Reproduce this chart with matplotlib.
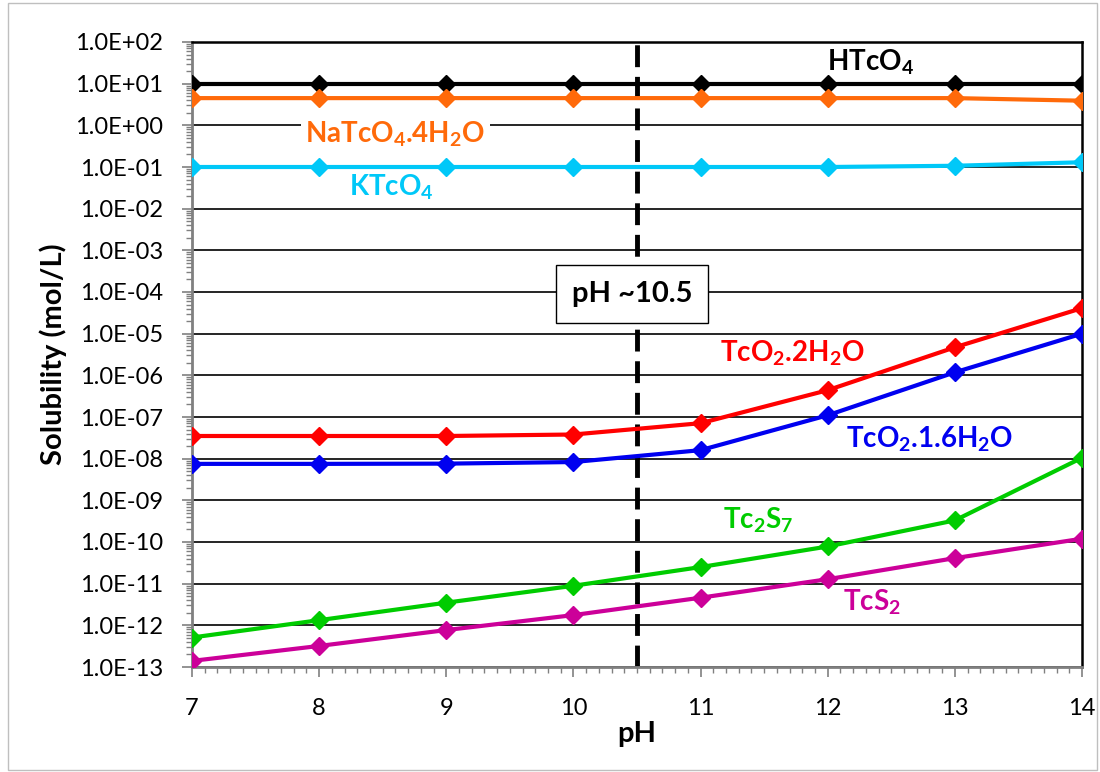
import matplotlib
matplotlib.use("Agg")
import matplotlib.pyplot as plt
from matplotlib.ticker import FixedLocator, LogLocator, NullFormatter, MultipleLocator
from matplotlib.patches import Rectangle
import numpy as np

plt.rcParams['font.family'] = ['Lato', 'DejaVu Sans']
plt.rcParams['mathtext.default'] = 'regular'

ph = [7, 8, 9, 10, 11, 12, 13, 14]
htco4 = [9.8, 9.8, 9.8, 9.8, 9.8, 9.8, 9.8, 9.8]
natco4 = [4.5, 4.5, 4.5, 4.5, 4.5, 4.5, 4.5, 3.9]
ktco4 = [0.1, 0.1, 0.1, 0.1, 0.1, 0.1, 0.107, 0.13]
tco2_2h2o = [3.5e-8, 3.5e-8, 3.5e-8, 3.8e-8, 7.1e-8, 4.4e-7, 4.7e-6, 4.1e-5]
tco2_16h2o = [7.5e-9, 7.5e-9, 7.6e-9, 8.3e-9, 1.6e-8, 1.1e-7, 1.18e-6, 1.0e-5]
tc2s7 = [5.1e-13, 1.33e-12, 3.5e-12, 8.9e-12, 2.5e-11, 7.8e-11, 3.3e-10, 1.05e-8]
tcs2 = [1.4e-13, 3.2e-13, 7.7e-13, 1.76e-12, 4.6e-12, 1.28e-11, 4.1e-11, 1.2e-10]

series = [
    (htco4, '#000000', 'HTcO$_4$', 12.34, 33.0, False),
    (natco4, '#FF6A0A', 'NaTcO$_4$.4H$_2$O', 8.6, 0.62, True),
    (ktco4, '#00C8F8', 'KTcO$_4$', 8.57, 0.033, False),
    (tco2_2h2o, '#FF0000', 'TcO$_2$.2H$_2$O', 11.72, 3.3e-6, False),
    (tco2_16h2o, '#0000F0', 'TcO$_2$.1.6H$_2$O', 12.80, 3.0e-8, False),
    (tc2s7, '#00CC00', 'Tc$_2$S$_7$', 11.45, 3.4e-10, False),
    (tcs2, '#CC0099', 'TcS$_2$', 12.35, 3.6e-12, False),
]

fig = plt.figure(figsize=(11, 7.72), dpi=100)
ax = fig.add_axes([192/1100, 1-667/772, (1082-192)/1100, (667-42)/772])

ax.set_yscale('log')
ax.set_xlim(7, 14)
ax.set_ylim(1e-13, 1e2)

ax.yaxis.set_major_locator(FixedLocator([10.0**k for k in range(-13, 3)]))
ax.yaxis.set_minor_locator(LogLocator(base=10, subs=np.arange(2, 10), numticks=100))
ax.yaxis.set_minor_formatter(NullFormatter())
ax.set_yticklabels(['1.0E%+03d' % k for k in range(-13, 3)])
ax.xaxis.set_major_locator(MultipleLocator(1))
ax.xaxis.set_minor_locator(MultipleLocator(0.1))

ax.grid(axis='y', which='major', color='#000000', lw=1.2, zorder=0)
ax.set_axisbelow(True)

ax.tick_params(axis='both', which='major', direction='out', length=7, width=1.2,
               color='#808080', labelsize=17)
ax.tick_params(axis='both', which='minor', direction='out', length=4.5, width=1,
               color='#808080')
ax.tick_params(axis='y', which='major', pad=14)
ax.tick_params(axis='x', which='major', pad=15)

for s in ['left', 'bottom']:
    ax.spines[s].set_color('#808080')
    ax.spines[s].set_linewidth(2)
for s in ['top', 'right']:
    ax.spines[s].set_color('#000000')
    ax.spines[s].set_linewidth(1.8)

for vals, col, lab, tx, ty, bg in series:
    ax.plot(ph, vals, color=col, lw=3, marker='D', ms=9.5, mec=col, zorder=3)
    kw = {}
    if bg:
        kw['bbox'] = dict(facecolor='white', edgecolor='none', pad=3)
    ax.text(tx, ty, lab, color=col, fontsize=20, fontweight='bold',
            ha='center', va='center', zorder=4, **kw)

ax.axvline(10.5, color='black', lw=3.5, dashes=(4.5, 2), zorder=2)
ax.text(10.46, 8.9e-5, 'pH ~10.5', fontsize=21, fontweight='bold', ha='center',
        va='center', zorder=5,
        bbox=dict(facecolor='white', edgecolor='black', lw=1, boxstyle='square,pad=0.55'))

ax.set_xlabel('pH', fontsize=21, fontweight='bold', labelpad=2)
ax.set_ylabel('Solubility (mol/L)', fontsize=21, fontweight='bold', labelpad=6)

fig.patches.append(Rectangle((8/1100, 2/772), 1089/1100, 767/772, transform=fig.transFigure,
                             fill=False, edgecolor='#BFBFBF', lw=1))

fig.savefig('out.png', dpi=100)
